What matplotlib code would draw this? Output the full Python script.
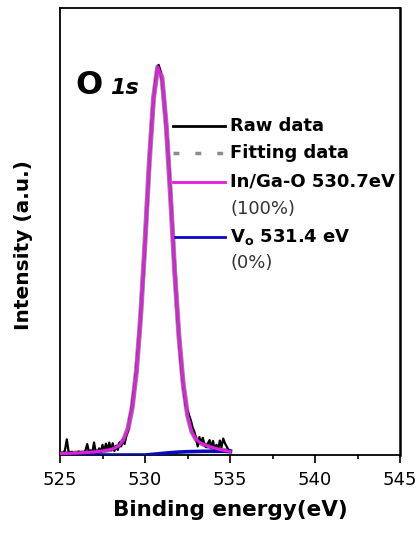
import matplotlib
matplotlib.use('Agg')
import matplotlib.pyplot as plt
from matplotlib.ticker import MultipleLocator
import numpy as np

plt.rcParams['font.family'] = ['DejaVu Sans']

# XPS O 1s spectrum (normalised intensity)
raw_energy = np.round(np.arange(525.0, 535.01, 0.1), 2)
raw_intensity = [
    0.003, 0.006, 0.004, 0.014, 0.040, 0.010, 0.005, 0.008, 0.003, 0.006,
    0.004, 0.009, 0.005, 0.007, 0.003, 0.012, 0.028, 0.008, 0.012, 0.006,
    0.032, 0.009, 0.004, 0.017, 0.008, 0.026, 0.010, 0.029, 0.014, 0.032,
    0.012, 0.030, 0.010, 0.023, 0.013, 0.032, 0.022, 0.040, 0.028, 0.050,
    0.062, 0.095, 0.115, 0.150, 0.180, 0.225, 0.275, 0.330, 0.400, 0.465,
    0.540, 0.620, 0.700, 0.780, 0.850, 0.905, 0.950, 0.980, 0.995, 0.980,
    0.955, 0.915, 0.860, 0.805, 0.740, 0.665, 0.585, 0.505, 0.430, 0.360,
    0.300, 0.240, 0.195, 0.160, 0.125, 0.112, 0.100, 0.088, 0.070, 0.060,
    0.042, 0.022, 0.046, 0.030, 0.044, 0.026, 0.020, 0.030, 0.038, 0.018,
    0.036, 0.015, 0.026, 0.013, 0.037, 0.020, 0.042, 0.030, 0.022, 0.014,
    0.012,
]

fit_energy = np.round(np.arange(525.0, 535.01, 0.25), 2)
ingao_intensity = [
    0.0035, 0.0038, 0.0042, 0.0046, 0.0051, 0.0056, 0.0063, 0.0071, 0.0080, 0.0091,
    0.0104, 0.0121, 0.0145, 0.0182, 0.0251, 0.0390, 0.0674, 0.1216, 0.215, 0.358,
    0.543, 0.746, 0.910, 0.990, 0.962, 0.840, 0.660, 0.465, 0.300, 0.180,
    0.102, 0.060, 0.040, 0.031, 0.026, 0.022, 0.019, 0.016, 0.013, 0.011,
    0.009,
]
fitting_intensity = ingao_intensity  # Vo component is 0 %

vo_energy = np.arange(525.0, 535.01, 0.5)
vo_intensity = [
    0.0, 0.0, 0.0, 0.0, 0.0, 0.0, 0.0, 0.0, 0.0, 0.0,
    0.0, 0.002, 0.004, 0.006, 0.0075, 0.0085, 0.009, 0.0095, 0.0095, 0.0095,
    0.0095,
]

PINK = "#E01EE0"
BLUE = "#0A0ABF"
GRAY = "#8C8C8C"

fig = plt.figure(figsize=(4.19, 5.36), dpi=100)
ax = fig.add_axes([0.1432, 0.1511, 0.8115, 0.8339])

ax.plot(fit_energy, fitting_intensity, color=GRAY, lw=3.6, zorder=2)
ax.plot(raw_energy, raw_intensity, color='black', lw=1.6, zorder=3)
ax.plot(vo_energy, vo_intensity, color=BLUE, lw=2.6, zorder=4)
ax.plot(fit_energy, ingao_intensity, color=PINK, lw=2.2, zorder=5)

ax.set_xlim(525, 545)
ax.set_ylim(0, 1.14)
ax.set_yticks([])
ax.xaxis.set_major_locator(MultipleLocator(5))
ax.xaxis.set_minor_locator(MultipleLocator(2.5))
ax.tick_params(axis='x', which='major', direction='out', length=5.5, width=1.2,
               labelsize=13, pad=6)
ax.tick_params(axis='x', which='minor', direction='out', length=3, width=1.2)
for sp in ax.spines.values():
    sp.set_linewidth(1.3)
ax.spines['right'].set_linewidth(1.8)

ax.set_xlabel('Binding energy(eV)', fontsize=15.5, fontweight='bold', labelpad=8)
ax.set_ylabel('Intensity (a.u.)', fontsize=14.5, fontweight='bold')
ax.yaxis.set_label_coords(-0.08, 0.47)

# panel label
ax.text(0.044, 0.808, 'O', transform=ax.transAxes, fontsize=23,
        fontweight='bold', va='baseline')
ax.text(0.147, 0.808, '1s', transform=ax.transAxes, fontsize=16,
        fontweight='bold', style='italic', va='baseline')

# hand-made legend
x0, x1, xt = 0.332, 0.485, 0.50
rows = [
    (0.736, dict(color='black', lw=2.0), 'Raw data'),
    (0.676, dict(color=GRAY, lw=2.5, ls=(0, (1.7, 4.6))), 'Fitting data'),
    (0.611, dict(color=PINK, lw=2.0), 'In/Ga-O 530.7eV'),
    (0.488, dict(color=BLUE, lw=2.0), r'V$_{\mathregular{o}}$ 531.4 eV'),
]
for y, style, label in rows:
    ax.plot([x0, x1], [y, y], transform=ax.transAxes, clip_on=False, **style)
    ax.text(xt, y, label, transform=ax.transAxes, fontsize=13,
            fontweight='bold', va='center')
ax.text(xt, 0.550, '(100%)', transform=ax.transAxes, fontsize=13,
        color='#333333', va='center')
ax.text(xt, 0.430, '(0%)', transform=ax.transAxes, fontsize=13,
        color='#333333', va='center')

fig.savefig('out.png', dpi=100)
